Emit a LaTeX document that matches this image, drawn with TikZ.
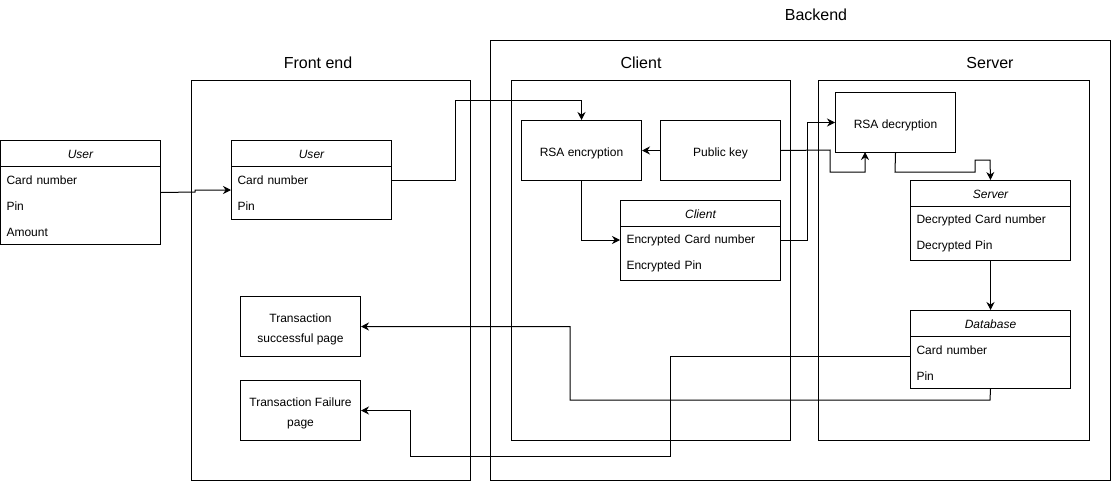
\documentclass[tikz,border=0pt]{standalone}
\usepackage{fontspec}
\setmainfont{Liberation Sans}
\usetikzlibrary{arrows.meta}
\begin{document}
\begin{tikzpicture}[x=1pt,y=-1pt,line width=1pt,
  every node/.style={font=\fontsize{12}{14}\selectfont},
  cont/.style={draw,anchor=north west,inner sep=0pt},
  ttl/.style={font=\fontsize{16}{19}\selectfont},
  cls/.style={draw,anchor=north west,inner sep=0pt,minimum width=160},
  clstitle/.style={font=\fontsize{12}{14}\selectfont\itshape},
  field/.style={anchor=west,inner xsep=6pt,inner ysep=0pt,text width=148pt,align=left,minimum height=26},
  proc/.style={draw,anchor=north west,inner sep=0pt,minimum width=120,minimum height=60,
    label={[align=center,font=\fontsize{12}{20}\selectfont,yshift=-2.5pt]center:#1}},
  arr/.style={-{Stealth[length=8pt,width=8pt]},line width=1pt}]
\useasboundingbox (0,0) rectangle (1113,482);

% containers
\node[cont,minimum width=279,minimum height=400] (fe) at (191,80) {};
\node[ttl] (fet) at (318,63) {Front end};
\node[cont,minimum width=620,minimum height=440] (be) at (490,40) {};
\node[ttl] (bet) at (816,15) {Backend};
\node[cont,minimum width=279,minimum height=360] (cl) at (511,80) {};
\node[ttl] (clt) at (641,63) {Client};
\node[cont,minimum width=271,minimum height=360] (sv) at (818,80) {};
\node[ttl] (svt) at (990,63) {Server};

% User (outer)
\node[cls,minimum height=104] (user1) at (0,140) {};
\draw ([yshift=-26pt]user1.north west) -- ([yshift=-26pt]user1.north east);
\node[clstitle] (user1t) at ([yshift=-14pt]user1.north) {User};
\node[field] (u1cn) at (0,180) {Card number};
\node[field] (u1pin) at (0,206) {Pin};
\node[field] (u1am) at (0,232) {Amount};

% User (front end)
\node[cls,minimum height=79] (user2) at (231,140) {};
\draw ([yshift=-26pt]user2.north west) -- ([yshift=-26pt]user2.north east);
\node[clstitle] (user2t) at ([yshift=-14pt]user2.north) {User};
\node[field] (u2cn) at (231,180) {Card number};
\node[field] (u2pin) at (231,206) {Pin};

% Transaction pages
\node[proc={Transaction\\successful page}] (ok) at (240,296) {};
\node[proc={Transaction Failure\\page}] (fail) at (240,380) {};

% Client side
\node[proc={RSA encryption}] (enc) at (521,120) {};
\node[proc={Public key}] (pk) at (660,120) {};
\node[cls,minimum height=80] (client) at (620,200) {};
\draw ([yshift=-26pt]client.north west) -- ([yshift=-26pt]client.north east);
\node[clstitle] (clientt) at ([yshift=-14pt]client.north) {Client};
\node[field] (ccn) at (620,240) {Encrypted Card number};
\node[field] (cpin) at (620,266) {Encrypted Pin};

% Server side
\node[proc={RSA decryption}] (dec) at (835,92) {};
\node[cls,minimum height=80] (server) at (910,180) {};
\draw ([yshift=-26pt]server.north west) -- ([yshift=-26pt]server.north east);
\node[clstitle] (servert) at ([yshift=-14pt]server.north) {Server};
\node[field] (scn) at (910,220) {Decrypted Card number};
\node[field] (spin) at (910,246) {Decrypted Pin};

\node[cls,minimum height=78] (db) at (910,310) {};
\draw ([yshift=-26pt]db.north west) -- ([yshift=-26pt]db.north east);
\node[clstitle] (dbt) at ([yshift=-14pt]db.north) {Database};
\node[field] (dbcn) at (910,350) {Card number};
\node[field] (dbpin) at (910,376) {Pin};

% connectors
\draw[arr] (user1.east) -- (195,192) -- (195,190) -- (user2.west |- 0,190);
\draw[arr] (u2cn.east) -- (455,180) -- (455,100) -| (enc.north);
\draw[arr] (pk.west) -- (enc.east);
\draw[arr] (enc.south) |- (ccn.west);
\draw[arr] (ccn.east) -- (807,240) |- (dec.west);
\draw[arr] (pk.east) -- (830,150) -- (830,172) -- (865,172) -- (865,152);
\draw[arr] (dec.south) -- (895,172) -- (975,172) -- (975,160) -- (990,160) -- (server.north);
\draw[arr] (server.south) -- (db.north);
\draw[arr] (db.south) -- (990,400) -- (570,400) |- (ok.east);
\draw[arr] (db.west |- 0,356) -- (670,356) -- (670,456) -- (410,456) |- (fail.east);
\end{tikzpicture}
\end{document}
